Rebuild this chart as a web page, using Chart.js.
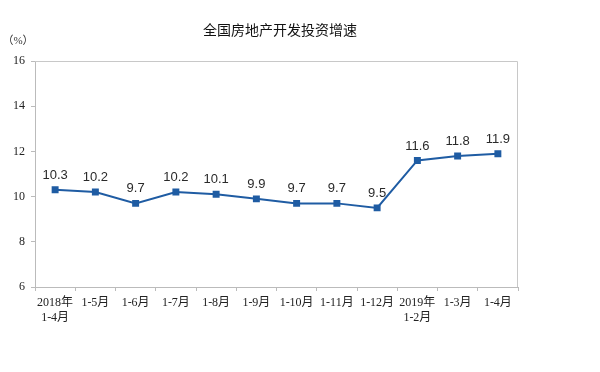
<!DOCTYPE html>
<html>
<head>
<meta charset="utf-8">
<script src="https://cdn.jsdelivr.net/npm/chart.js@4.4.1/dist/chart.umd.min.js"></script>
<style>
body { margin: 0; background: #fff; }
#wrap { width: 600px; height: 372px; }
</style>
</head>
<body>
<div id="wrap"><canvas id="grafica" width="600" height="372"></canvas></div>
<script>
const meses = [['2018年', '1-4月'], '1-5月', '1-6月', '1-7月', '1-8月', '1-9月', '1-10月', '1-11月', '1-12月', ['2019年', '1-2月'], '1-3月', '1-4月'];
const inversion = [10.3, 10.2, 9.7, 10.2, 10.1, 9.9, 9.7, 9.7, 9.5, 11.6, 11.8, 11.9];
const ticksY = [6, 8, 10, 12, 14, 16];

const fuenteSerif = '"Liberation Serif", "Noto Sans CJK SC", serif';
const azul = '#1f5ca3';

// etiquetas, titulo y marco
const extras = {
    id: 'extras',
    afterDatasetsDraw(chart) {
        const ctx = chart.ctx;
        const area = chart.chartArea;
        ctx.save();
        // marco gris
        ctx.strokeStyle = '#c8c8c8';
        ctx.lineWidth = 1;
        ctx.beginPath();
        ctx.moveTo(area.left, area.top + 0.5);
        ctx.lineTo(area.right - 0.5, area.top + 0.5);
        ctx.lineTo(area.right - 0.5, area.bottom);
        ctx.stroke();

        // valores
        const meta = chart.getDatasetMeta(0);
        ctx.fillStyle = '#2a2a2a';
        ctx.font = '13px "Liberation Sans", Arial, sans-serif';
        ctx.textAlign = 'center';
        ctx.textBaseline = 'bottom';
        meta.data.forEach((p, i) => {
            ctx.fillText(inversion[i].toFixed(1), p.x, p.y - 8);
        });

        // titulo
        ctx.fillStyle = '#111';
        ctx.font = '14px "Noto Sans CJK SC", sans-serif';
        ctx.textBaseline = 'middle';
        ctx.fillText('全国房地产开发投资增速', 280, 30);

        // unidad
        ctx.font = '11px ' + fuenteSerif;
        ctx.fillStyle = '#333';
        ctx.fillText('（%）', 18, 41);
        ctx.restore();
    }
};

let tablaInversion;
function crearTablaInversion() {
    const ctx = document.getElementById('grafica');
    const config = {
        type: 'line',
        data: {
            labels: meses,
            datasets: [{
                label: '全国房地产开发投资增速',
                data: inversion,
                borderColor: azul,
                backgroundColor: azul,
                borderWidth: 2,
                pointStyle: 'rect',
                pointRadius: 3.5,
                pointHoverRadius: 3.5,
                tension: 0
            }]
        },
        options: {
            responsive: false,
            animation: false,
            layout: { padding: { left: 0, right: 82, top: 61, bottom: 0 } },
            plugins: {
                legend: { display: false },
                title: { display: false },
                tooltip: { enabled: false }
            },
            scales: {
                x: {
                    offset: true,
                    grid: { offset: true, drawOnChartArea: false, tickLength: 4, color: '#bbb' },
                    border: { color: '#bbb' },
                    ticks: {
                        color: '#222',
                        font: { size: 12, family: fuenteSerif },
                        maxRotation: 0,
                        autoSkip: false,
                        padding: 5
                    },
                    afterFit: (s) => { s.height = 85; }
                },
                y: {
                    min: 6,
                    max: 16,
                    afterBuildTicks: (s) => { s.ticks = ticksY.map(v => ({ value: v })); },
                    grid: { drawOnChartArea: false, tickLength: 4, color: '#bbb' },
                    border: { color: '#bbb' },
                    ticks: {
                        color: '#222',
                        font: { size: 12, family: fuenteSerif },
                        padding: 6
                    },
                    afterFit: (s) => { s.width = 35; }
                }
            }
        },
        plugins: [extras]
    };
    if (tablaInversion instanceof Chart) {
        tablaInversion.destroy();
    }
    tablaInversion = new Chart(ctx, config);
}

crearTablaInversion();
</script>
</body>
</html>
